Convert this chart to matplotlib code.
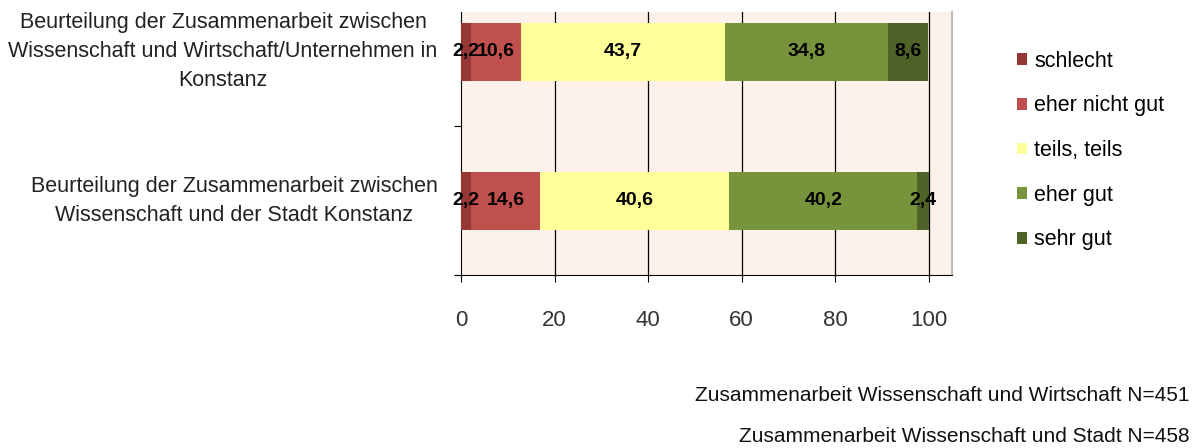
import numpy as np
import matplotlib.pyplot as plt

# ---- data ----
kategorien = [
    "Beurteilung der Zusammenarbeit zwischen\nWissenschaft und der Stadt Konstanz",
    "Beurteilung der Zusammenarbeit zwischen\nWissenschaft und Wirtschaft/Unternehmen in\nKonstanz",
]
stufen = ["schlecht", "eher nicht gut", "teils, teils", "eher gut", "sehr gut"]
schlecht = [2.2, 2.2]
eher_nicht_gut = [14.6, 10.6]
teils_teils = [40.6, 43.7]
eher_gut = [40.2, 34.8]
sehr_gut = [2.4, 8.6]
x_ticks = [0, 20, 40, 60, 80, 100]
fussnoten = ["Zusammenarbeit Wissenschaft und Wirtschaft N=451",
             "Zusammenarbeit Wissenschaft und Stadt N=458"]

farben = ["#953735", "#C0504D", "#FFFF99", "#77933C", "#4F6228"]
serien = [schlecht, eher_nicht_gut, teils_teils, eher_gut, sehr_gut]

plt.rcParams['font.family'] = ['Liberation Sans', 'DejaVu Sans']

fig = plt.figure(figsize=(11.99, 4.48), dpi=100)
ax = fig.add_axes([0.3845, 0.386, 0.4095, 0.587])
ax.set_facecolor("#FDF2EA")

y = np.arange(len(kategorien))
links = np.zeros(len(kategorien))
for name, werte, farbe in zip(stufen, serien, farben):
    werte = np.array(werte)
    ax.barh(y, werte, left=links, height=0.39, color=farbe, label=name, zorder=3)
    for yi, l, w in zip(y, links, werte):
        ax.text(l + w / 2, yi, f"{w:.1f}".replace(".", ","), ha="center", va="center",
                fontsize=14, fontweight="bold", zorder=4)
    links += werte

ax.set_xlim(0, 105)
ax.set_ylim(-0.5, 1.265)
ax.set_xticks(x_ticks)
ax.set_xticklabels([str(t) for t in x_ticks], fontsize=16, color="#333333")
ax.tick_params(axis="x", direction="out", length=5, pad=20, color="black")
ax.set_yticks([-0.5, 0.5])
ax.set_yticklabels([])
ax.tick_params(axis="y", direction="out", length=5, color="black")
for yi, txt in zip(y, kategorien):
    ax.text(-5.0, yi, txt, ha="right", va="center", multialignment="center",
            fontsize=15.5, linespacing=1.5, color="#222222")

for t in x_ticks[1:]:
    ax.axvline(t, color="black", lw=0.9, zorder=2)

ax.spines["top"].set_visible(False)
ax.spines["right"].set_color("#BBBBBB")
ax.spines["right"].set_linewidth(1.5)
ax.spines["left"].set_color("black")
ax.spines["bottom"].set_color("black")

handles, labels = ax.get_legend_handles_labels()
fig.legend(handles, labels, loc="upper left", bbox_to_anchor=(0.832, 0.93),
           frameon=False, fontsize=15.5, handlelength=0.45, handleheight=0.45,
           handletextpad=0.35, labelspacing=1.1)

fig.text(0.992, 0.118, fussnoten[0], ha="right", va="center", fontsize=15, color="#111111")
fig.text(0.992, 0.025, fussnoten[1], ha="right", va="center", fontsize=15, color="#111111")

fig.savefig("out.png", dpi=100)
